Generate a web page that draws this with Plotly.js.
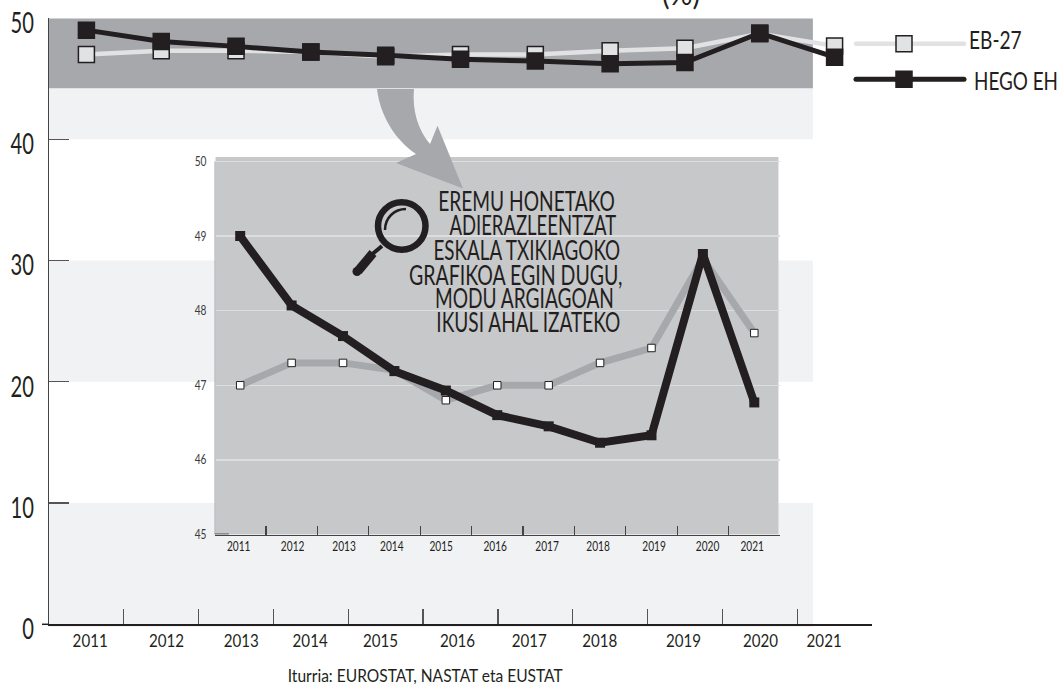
<!DOCTYPE html>
<html>
<head>
<meta charset="utf-8">
<script src="https://cdn.plot.ly/plotly-3.0.1.min.js"></script>
<style>html,body{margin:0;padding:0;background:#fff}</style>
</head>
<body>
<div id="chart" style="width:1061px;height:684px"></div>
<script>
var years = [2011,2012,2013,2014,2015,2016,2017,2018,2019,2020,2021];
var eb27 = [47,47.3,47.3,47.2,46.8,47,47,47.3,47.5,48.7,47.7];
var hegoEh = [49,48.07,47.66,47.19,46.93,46.6,46.45,46.23,46.33,48.76,46.77];
var yearLabels = ['2011','2012','2013','2014','2015','2016','2017','2018','2019','2020','2021'];
var mainLabelPos = [2011.05,2012.07,2013.07,2013.99,2014.93,2015.96,2016.92,2017.86,2018.98,2020.01,2020.86];
var insetLabelPos = [2010.97,2012.02,2013.02,2013.95,2014.91,2015.96,2016.97,2017.96,2019.05,2020.09,2020.96];
var binEdges = [2010.5,2011.5,2012.5,2013.5,2014.5,2015.5,2016.5,2017.5,2018.5,2019.5,2020.5,2021.5];
var mainYTicks = [0,10,20,30,40,50];
var insetYTicks = [45,46,47,48,49,50];
var lightBands = [[0,10],[20,30],[40,44.2]];
var noteLines = ['EREMU HONETAKO','ADIERAZLEENTZAT','ESKALA TXIKIAGOKO','GRAFIKOA EGIN DUGU,','MODU ARGIAGOAN','IKUSI AHAL IZATEKO'];
var noteLeft = [438.3,449.3,433.3,408.3,435,436];
var noteRight = [615,616,620,621.7,614,620];
var noteY = [200.7,224,249.3,274,297.3,321.7];
var sourceText = 'Iturria: EUROSTAT, NASTAT eta EUSTAT';

var W=1061,H=684;
function px(x){return x/W;} function py(y){return 1-y/H;}
var INK='#231f20', FONT='Lato,"Liberation Sans",sans-serif';
function P(s){ return s.replace(/(-?[\d.]+) (-?[\d.]+)/g,function(m,a,b){return px(+a)+','+py(+b);}); }

var shapes=[];
lightBands.forEach(function(b){
  shapes.push({type:'rect',xref:'x',yref:'y',x0:2010.5,x1:2020.71,y0:b[0],y1:b[1],fillcolor:'#f1f2f4',line:{width:0},layer:'below'});
});
shapes.push({type:'rect',xref:'paper',yref:'paper',x0:px(49),x1:px(813),y0:py(627),y1:py(620),fillcolor:'#f1f2f4',line:{width:0},layer:'below'});
shapes.push({type:'rect',xref:'x',yref:'y',x0:2010.5,x1:2020.71,y0:44.2,y1:49.95,fillcolor:'#a7a8ab',line:{width:0},layer:'below'});
shapes.push({type:'rect',xref:'x2',yref:'y2',x0:2010.52,x1:2021.47,y0:45,y1:50.06,fillcolor:'#c7c8ca',line:{width:0},layer:'below'});
shapes.push({type:'line',xref:'x2',yref:'y2',x0:2010.5,x1:2010.5,y0:45,y1:50,line:{color:'#a7a8ab',width:2},layer:'above'});
shapes.push({type:'line',xref:'x2',yref:'y2',x0:2010.5,x1:2010.78,y0:45,y1:45,line:{color:'#77787b',width:2.5},layer:'above'});
// stub of the axis left of the origin
shapes.push({type:'line',xref:'paper',yref:'paper',x0:px(42),x1:px(49),y0:py(624.3),y1:py(624.3),line:{color:INK,width:1.5},layer:'above'});
// curved arrow
shapes.push({type:'path',xref:'paper',yref:'paper',layer:'above',fillcolor:'#a7a8ab',line:{width:0},
  path:P('M377 89 L414 89 C412 110 418 130 430 144 L437.5 125.7 L463 188.5 L396 163 L416 154 C395 140 380 115 377 89 Z')});
// magnifier
shapes.push({type:'circle',xref:'paper',yref:'paper',layer:'above',x0:px(378),x1:px(425.5),y0:py(249.7),y1:py(202.3),line:{color:INK,width:6.5},fillcolor:'rgba(0,0,0,0)'});
shapes.push({type:'path',xref:'paper',yref:'paper',layer:'above',line:{color:INK,width:2.5},path:P('M385 230 C385 218 394 209 406 209')});
shapes.push({type:'path',xref:'paper',yref:'paper',layer:'above',line:{color:INK,width:4},path:P('M382 246 L370 256')});
shapes.push({type:'path',xref:'paper',yref:'paper',layer:'above',line:{color:INK,width:9},path:P('M373 253 L358 271')});
shapes.push({type:'circle',xref:'paper',yref:'paper',layer:'above',x0:px(352.5),x1:px(361.5),y0:py(276),y1:py(267),fillcolor:INK,line:{width:0}});

var annotations=noteLines.map(function(t,i){
  return {text:t,xref:'paper',yref:'paper',x:px((noteLeft[i]+noteRight[i])/2),y:py(noteY[i]),xanchor:'center',yanchor:'middle',showarrow:false,
          font:{family:FONT,size:27,color:INK},borderpad:0};
});
annotations.push({text:sourceText,xref:'paper',yref:'paper',x:px(425.7),y:py(675),xanchor:'center',yanchor:'middle',showarrow:false,
  font:{family:FONT,size:18,color:INK},borderpad:0});

var traces=[
 {x:years,y:eb27,name:'EB-27',xaxis:'x',yaxis:'y',mode:'lines+markers',legendgroup:'a',
  line:{color:'#e1e2e4',width:4.5},marker:{symbol:'square',size:16,color:'#e1e2e4',line:{color:INK,width:1.5}}},
 {x:years,y:hegoEh,name:'HEGO EH',xaxis:'x',yaxis:'y',mode:'lines+markers',legendgroup:'b',
  line:{color:INK,width:5},marker:{symbol:'square',size:16,color:INK,line:{color:INK,width:1.5}}},
 {x:years,y:eb27,name:'EB-27',xaxis:'x2',yaxis:'y2',mode:'lines+markers',showlegend:false,
  line:{color:'#a7a8ab',width:7},marker:{symbol:'square',size:7.5,color:'#ffffff',line:{color:INK,width:1}}},
 {x:years,y:hegoEh,name:'HEGO EH',xaxis:'x2',yaxis:'y2',mode:'lines+markers',showlegend:false,
  line:{color:INK,width:8},marker:{symbol:'square',size:10,color:INK}},
 {x:years,y:eb27,xaxis:'x3',yaxis:'y',mode:'none',showlegend:false,hoverinfo:'skip'},
 {x:years,y:eb27,xaxis:'x4',yaxis:'y2',mode:'none',showlegend:false,hoverinfo:'skip'}
];
var mainDomX=[px(49),px(872)], mainDomY=[py(624.3),py(18)];
var inDomX=[px(214.5),px(780)], inDomY=[py(534.5),py(157)];
var layout={
 width:W,height:H,margin:{l:0,r:0,t:0,b:0,autoexpand:false},paper_bgcolor:'#fff',plot_bgcolor:'rgba(0,0,0,0)',
 title:{text:'(%)',x:px(681),xanchor:'center',y:py(5),yanchor:'bottom',font:{family:FONT,size:30,color:INK},pad:{t:0,b:0,l:0,r:0}},
 xaxis:{domain:mainDomX,range:[2010.5,2021.5],anchor:'y',tickmode:'array',tickvals:binEdges,ticktext:binEdges.map(function(){return '';}),
   ticks:'inside',ticklen:15,tickcolor:'#555',tickwidth:1.3,showline:true,linecolor:INK,linewidth:1.5,showgrid:false,zeroline:false},
 xaxis3:{domain:mainDomX,range:[2010.5,2021.5],anchor:'y',overlaying:'x',side:'bottom',tickmode:'array',tickvals:mainLabelPos,ticktext:yearLabels,
   ticks:'',showline:false,showgrid:false,zeroline:false,ticklabelstandoff:4,tickfont:{family:FONT,size:18,color:INK}},
 yaxis:{domain:mainDomY,range:[0,50],anchor:'x',tickmode:'array',tickvals:mainYTicks,ticktext:mainYTicks.map(String),
   ticks:'inside',ticklen:20,tickcolor:'#555',tickwidth:1.3,showline:true,linecolor:'#444',linewidth:1.5,showgrid:false,zeroline:false,
   ticklabelstandoff:8,ticklabelshift:5,tickfont:{family:FONT,size:28,color:INK}},
 xaxis2:{domain:inDomX,range:[2010.5,2021.5],anchor:'y2',tickmode:'array',tickvals:binEdges.slice(1),ticktext:binEdges.slice(1).map(function(){return '';}),
   ticks:'inside',ticklen:9,tickcolor:'#444',tickwidth:1.2,showline:true,linecolor:'#444',linewidth:1.3,showgrid:false,zeroline:false},
 xaxis4:{domain:inDomX,range:[2010.5,2021.5],anchor:'y2',overlaying:'x2',side:'bottom',tickmode:'array',tickvals:insetLabelPos,ticktext:yearLabels,
   ticks:'',showline:false,showgrid:false,zeroline:false,ticklabelstandoff:2,tickfont:{family:FONT,size:13,color:INK}},
 yaxis2:{domain:inDomY,range:[45,50.06],anchor:'x2',tickmode:'array',tickvals:insetYTicks,ticktext:insetYTicks.map(String),
   ticks:'',showline:false,showgrid:true,gridcolor:'#dcddde',gridwidth:1.3,zeroline:false,
   ticklabelstandoff:7,tickfont:{family:FONT,size:13,color:'#3c3a3b'}},
 legend:{x:px(851),y:py(21),xanchor:'left',yanchor:'top',bgcolor:'rgba(0,0,0,0)',itemwidth:108,traceorder:'grouped',tracegroupgap:0,
   font:{family:FONT,size:25,color:INK},itemclick:false,itemdoubleclick:false},
 showlegend:true,hovermode:false,shapes:shapes,annotations:annotations
};
Plotly.newPlot('chart',traces,layout,{displayModeBar:false,staticPlot:true}).then(function(gd){
  // the reference uses a condensed face: narrow the real text to its proportions
  function squeeze(sel,k){
    gd.querySelectorAll(sel).forEach(function(t){
      var w=t.getComputedTextLength();
      if(w>0){t.setAttribute('textLength',w*k);t.setAttribute('lengthAdjust','spacingAndGlyphs');}
    });
  }
  squeeze('.ytick text',0.72); squeeze('.y2tick text',0.78);
  squeeze('.x3tick text',0.84); squeeze('.x4tick text',0.78);
  squeeze('.gtitle',0.95);
  gd.querySelectorAll('.annotation-text').forEach(function(t,i){
    var target = i<noteLines.length ? noteRight[i]-noteLeft[i] : 275;
    t.setAttribute('textLength',target);t.setAttribute('lengthAdjust','spacingAndGlyphs');
  });
  // legend entries: widths, label offsets, rounded line ends, marker off-centre as in the reference
  var legendWidths=[52.7,84], legendDx=[0,5], legendDy=[-5,1];
  gd.querySelectorAll('.legendtext').forEach(function(t,i){
    t.setAttribute('textLength',legendWidths[i]);t.setAttribute('lengthAdjust','spacingAndGlyphs');
    t.setAttribute('x',parseFloat(t.getAttribute('x')||0)+legendDx[i]);
    t.setAttribute('y',parseFloat(t.getAttribute('y')||0)+legendDy[i]);
  });
  gd.querySelectorAll('.legendlines path').forEach(function(p){p.style.strokeLinecap='round';});
  gd.querySelectorAll('.legendpoints path.scatterpts').forEach(function(p){
    var tr=p.getAttribute('transform')||'';
    var m=tr.match(/translate\(([-\d.]+)[ ,]*([-\d.]*)\)/);
    if(m){p.setAttribute('transform','translate('+(parseFloat(m[1])-6)+','+(parseFloat(m[2])||0)+')');}
  });
});
</script>
</body>
</html>
